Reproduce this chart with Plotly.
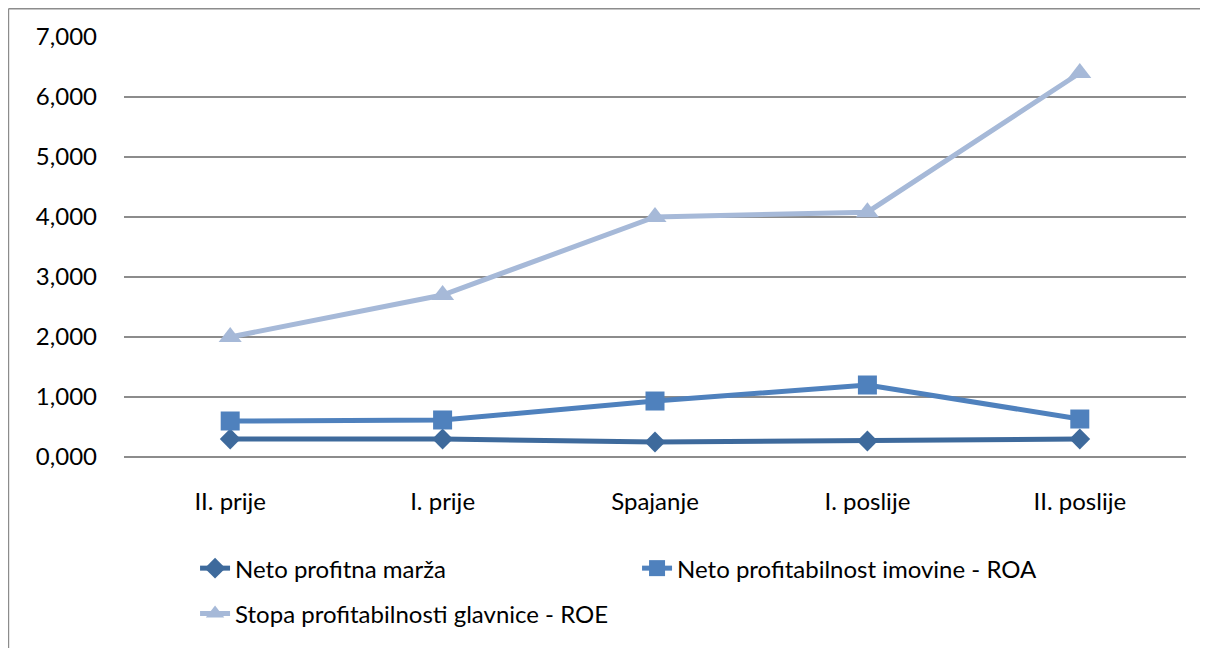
import plotly.graph_objects as go

categories = ["II. prije", "I. prije", "Spajanje", "I. poslije", "II. poslije"]
neto_marza = [0.30, 0.30, 0.25, 0.267, 0.30]
roa = [0.60, 0.617, 0.933, 1.20, 0.633]
roe = [2.00, 2.70, 4.00, 4.08, 6.40]

fig = go.Figure()
fig.add_trace(go.Scatter(
    x=categories, y=neto_marza, name="Neto profitna marža",
    mode="lines+markers",
    line=dict(color="#3E6A9C", width=5),
    marker=dict(symbol="diamond", size=16, color="#3E6A9C"),
))
fig.add_trace(go.Scatter(
    x=categories, y=roa, name="Neto profitabilnost imovine - ROA",
    mode="lines+markers",
    line=dict(color="#4F81BD", width=5),
    marker=dict(symbol="square", size=19, color="#4F81BD"),
))
fig.add_trace(go.Scatter(
    x=categories, y=roe, name="Stopa profitabilnosti glavnice - ROE",
    mode="lines+markers", legend="legend2",
    line=dict(color="#A6B9D8", width=5),
    marker=dict(symbol="triangle-up", size=20, color="#A6B9D8"),
))

legend_style = dict(
    orientation="h", xanchor="left", yanchor="top",
    entrywidth=397, entrywidthmode="pixels",
    font=dict(size=24), traceorder="normal", bgcolor="rgba(0,0,0,0)",
)

border = dict(color="#8C8C8C", width=1.5)

fig.update_layout(
    width=1208, height=648,
    margin=dict(l=116, r=30, t=29, b=199),
    plot_bgcolor="white", paper_bgcolor="white",
    font=dict(family="Lato", size=24, color="#000000"),
    separators=", ",
    showlegend=True,
    legend=dict(x=0.0669, y=-0.212, **legend_style),
    legend2=dict(x=0.0669, y=-0.32, **legend_style),
    shapes=[
        dict(type="line", xref="paper", yref="paper",
             x0=-0.1088, x1=-0.1088, y0=-0.6, y1=1.0673, line=border),
        dict(type="line", xref="paper", yref="paper",
             x0=-0.1088, x1=1.5, y0=1.0673, y1=1.0673, line=border),
    ],
)
fig.update_xaxes(
    range=[-0.5, 4.5], showgrid=False, showline=False, zeroline=False,
    ticklabelstandoff=28,
)
fig.update_yaxes(
    range=[0, 7], dtick=1, tickformat=".3f",
    showgrid=True, gridcolor="#8C8C8C", gridwidth=1.5,
    zeroline=True, zerolinecolor="#8C8C8C", zerolinewidth=1.5,
    ticklabelstandoff=26,
)

fig.write_html("out.html")
